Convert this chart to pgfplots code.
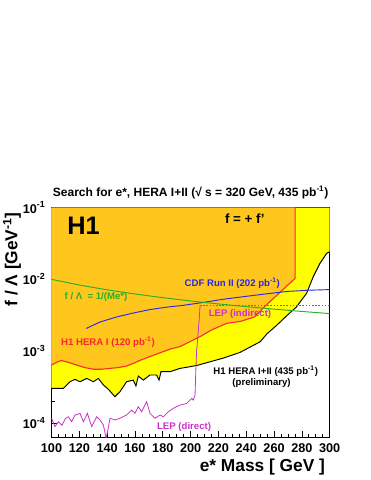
\documentclass[border=0pt]{standalone}
\usepackage{fontspec}
\setmainfont{Liberation Sans}
\usepackage{pgfplots}
\pgfplotsset{compat=1.18}

\definecolor{horange}{RGB}{255,198,30}
\definecolor{hyellow}{RGB}{255,255,0}
\definecolor{hred}{RGB}{250,40,40}
\definecolor{hblue}{RGB}{40,40,225}
\definecolor{hgreen}{RGB}{40,175,40}
\definecolor{hmag}{RGB}{200,50,200}

\begin{document}
\begin{tikzpicture}
\useasboundingbox (-38.625pt,-32.25pt) rectangle (239.625pt,327.75pt);
\begin{axis}[
    at={(0,0)}, anchor=south west,
    scale only axis,
    width=208.65pt, height=172.1pt,
    xmin=100, xmax=300,
    ymode=log, ymin=6.37e-5, ymax=0.1,
    xtick={100,120,...,300},
    minor x tick num=3,
    ytick={1e-4,1e-3,1e-2,1e-1},
    yticklabels={10\textsuperscript{-4},10\textsuperscript{-3},10\textsuperscript{-2},10\textsuperscript{-1}},
    tick align=inside,
    tick pos=left,
    major tick length=4.5pt,
    minor tick length=2.5pt,
    every tick/.style={black, line width=0.5pt},
    axis line style={line width=0.6pt},
    ticklabel style={font=\bfseries\fontsize{9.5}{10}\selectfont},
    xticklabel style={yshift=-1.5pt},
    yticklabel style={xshift=-1pt},
    /pgf/number format/assume math mode=true,
    /pgf/number format/set thousands separator={},
    title={Search for e*, HERA I+II (√ s = 320 GeV, 435 pb\textsuperscript{-1})},
    title style={font=\bfseries\fontsize{9}{10}\selectfont, at={(axis description cs:0.5,1)}, anchor=base, yshift=2pt},
    xlabel={e* Mass [ GeV ]},
    xlabel style={font=\bfseries\fontsize{13}{14}\selectfont, at={(axis description cs:1,-0.131)}, anchor=east},
    ylabel={f / Λ [GeV\textsuperscript{-1}]},
    ylabel style={font=\bfseries\fontsize{13}{14}\selectfont, at={(axis description cs:-0.142,1)}, anchor=east, rotate=0},
]

% HERA I+II excluded region (yellow)
\addplot[fill=hyellow, draw=none] coordinates {
    (100,3.03e-4) (108.5,3.03e-4) (113.3,3.75e-4) (116.9,4.04e-4) (120.5,3.75e-4)
    (125.3,4.17e-4) (130.1,3.75e-4) (133.7,4.17e-4) (137.3,3.38e-4) (140.9,2.94e-4)
    (145.6,2.32e-4) (149.2,2.72e-4) (154,3.75e-4) (158.8,3.95e-4) (160.7,3.27e-4)
    (162.4,4.5e-4) (166,3.95e-4) (170.8,4.65e-4) (175.6,4.65e-4) (177.3,3.95e-4)
    (178.7,5.17e-4) (185.2,5.17e-4) (192.4,5.75e-4) (199.6,6.07e-4) (205.6,6.4e-4)
    (211.6,6.9e-4) (223.5,8.0e-4) (235.5,9.6e-4) (245,1.2e-3) (250,1.35e-3)
    (255,1.75e-3) (262,2.3e-3) (269,3.1e-3) (276,4.1e-3) (283.4,6.4e-3)
    (288.2,1.09e-2) (293,1.67e-2) (297.8,2.3e-2) (300,2.43e-2)
    (300,0.1) (100,0.1)
};

% HERA I excluded region (orange)
\addplot[fill=horange, draw=none] coordinates {
    (100,6.4e-4) (103.7,7.0e-4) (107,7.4e-4) (112,7.0e-4) (118,6.4e-4) (124,5.9e-4)
    (130,5.6e-4) (136,5.6e-4) (142,5.75e-4) (148,5.9e-4) (154,6.2e-4) (160,6.9e-4)
    (164,7.5e-4) (170,8.3e-4) (175,9.0e-4) (180,9.8e-4) (186,1.08e-3) (192,1.15e-3)
    (197,1.28e-3) (204,1.5e-3) (207,1.6e-3) (215,1.97e-3) (226,2.44e-3) (236,2.6e-3)
    (246,3.0e-3) (255,4.5e-3) (264,6.5e-3) (275.1,1.03e-2) (275.1,0.1) (100,0.1)
};

% HERA I limit
\addplot[hred, line width=0.8pt] coordinates {
    (100,6.4e-4) (103.7,7.0e-4) (107,7.4e-4) (112,7.0e-4) (118,6.4e-4) (124,5.9e-4)
    (130,5.6e-4) (136,5.6e-4) (142,5.75e-4) (148,5.9e-4) (154,6.2e-4) (160,6.9e-4)
    (164,7.5e-4) (170,8.3e-4) (175,9.0e-4) (180,9.8e-4) (186,1.08e-3) (192,1.15e-3)
    (197,1.28e-3) (204,1.5e-3) (207,1.6e-3) (215,1.97e-3) (226,2.44e-3) (236,2.6e-3)
    (246,3.0e-3) (255,4.5e-3) (264,6.5e-3) (275.1,1.03e-2) (275.1,0.1)
};

% HERA I+II limit
\addplot[black, line width=0.7pt] coordinates {
    (100,3.03e-4) (108.5,3.03e-4) (113.3,3.75e-4) (116.9,4.04e-4) (120.5,3.75e-4)
    (125.3,4.17e-4) (130.1,3.75e-4) (133.7,4.17e-4) (137.3,3.38e-4) (140.9,2.94e-4)
    (145.6,2.32e-4) (149.2,2.72e-4) (154,3.75e-4) (158.8,3.95e-4) (160.7,3.27e-4)
    (162.4,4.5e-4) (166,3.95e-4) (170.8,4.65e-4) (175.6,4.65e-4) (177.3,3.95e-4)
    (178.7,5.17e-4) (185.2,5.17e-4) (192.4,5.75e-4) (199.6,6.07e-4) (205.6,6.4e-4)
    (211.6,6.9e-4) (223.5,8.0e-4) (235.5,9.6e-4) (245,1.2e-3) (250,1.35e-3)
    (255,1.75e-3) (262,2.3e-3) (269,3.1e-3) (276,4.1e-3) (283.4,6.4e-3)
    (288.2,1.09e-2) (293,1.67e-2) (297.8,2.3e-2) (300,2.43e-2)
};

% CDF Run II
\addplot[hblue, line width=0.7pt] coordinates {
    (125,2.07e-3) (135,2.55e-3) (147,3.0e-3) (159,3.4e-3) (171,3.8e-3) (183,4.1e-3)
    (195,4.35e-3) (210,4.8e-3) (224,5.3e-3) (240,5.8e-3) (255,6.3e-3) (270,6.8e-3)
    (285,7.05e-3) (300,7.2e-3)
};

% f/Lambda = 1/M
\addplot[hgreen, line width=0.7pt] coordinates {
    (100,0.01) (120,0.008333) (140,0.007143) (160,0.00625) (180,0.005556) (200,0.005)
    (220,0.004545) (240,0.004167) (260,0.003846) (280,0.003571) (300,0.003333)
};

% LEP direct
\addplot[hmag, line width=0.6pt] coordinates {
    (100.1,1.16e-4) (102.5,8.9e-5) (104.9,1.04e-4) (107.5,9.3e-5) (110,1.15e-4) (112.1,1.22e-4)
    (114.5,1.04e-4) (116.9,1.29e-4) (120.5,1.36e-4) (122.9,1.04e-4) (125.8,1.36e-4)
    (128.9,8.9e-5) (132.5,1.22e-4) (134.9,1.10e-4) (137.3,9.35e-5) (139.2,6.2e-5)
    (140.1,7.2e-5) (142.1,1.16e-4) (145.6,1.10e-4) (149.2,1.16e-4) (154,1.29e-4)
    (157.6,1.51e-4) (160,1.36e-4) (162.4,1.68e-4) (164.8,1.43e-4) (168.4,1.98e-4)
    (170.8,1.36e-4) (174.4,1.16e-4) (178,1.29e-4) (180.4,1.22e-4) (184,1.43e-4)
    (187.6,1.60e-4) (192.4,1.77e-4) (197.2,1.87e-4) (200.8,2.2e-4) (201.9,2.08e-4)
    (203.2,2.45e-4) (203.7,5.0e-4) (204.3,1.0e-3) (205.2,1.58e-3) (206.2,2.8e-3)
    (206.8,4.3e-3)
};

% LEP indirect
\addplot[hmag, line width=0.6pt, dash pattern=on 1.2pt off 1.2pt] coordinates {
    (206.8,4.3e-3) (300,4.3e-3)
};

\node[font=\bfseries\fontsize{19}{20}\selectfont] at (axis cs:123,0.055) {H1};
\node[font=\bfseries\fontsize{10}{11}\selectfont] at (axis cs:239,0.069) {f = + f'};
\node[font=\bfseries\fontsize{7.2}{8}\selectfont, text=hblue] at (axis cs:230,8.9e-3) {CDF Run II (202 pb\textsuperscript{-1})};
\node[font=\bfseries\fontsize{7.2}{8}\selectfont, text=hgreen] at (axis cs:132,5.7e-3) {f / Λ \ = 1/(Me*)};
\node[font=\bfseries\fontsize{7.2}{8}\selectfont, text=hmag] at (axis cs:235.5,3.3e-3) {LEP (indirect)};
\node[font=\bfseries\fontsize{7.2}{8}\selectfont, text=hred] at (axis cs:140.6,1.34e-3) {H1 HERA I (120 pb\textsuperscript{-1})};
\node[font=\bfseries\fontsize{7.2}{8}\selectfont] at (axis cs:254,5.3e-4) {H1 HERA I+II (435 pb\textsuperscript{-1})};
\node[font=\bfseries\fontsize{7.2}{8}\selectfont] at (axis cs:251,3.56e-4) {(preliminary)};
\node[font=\bfseries\fontsize{7.2}{8}\selectfont, text=hmag] at (axis cs:195.3,8.8e-5) {LEP (direct)};
\end{axis}
\end{tikzpicture}
\end{document}
